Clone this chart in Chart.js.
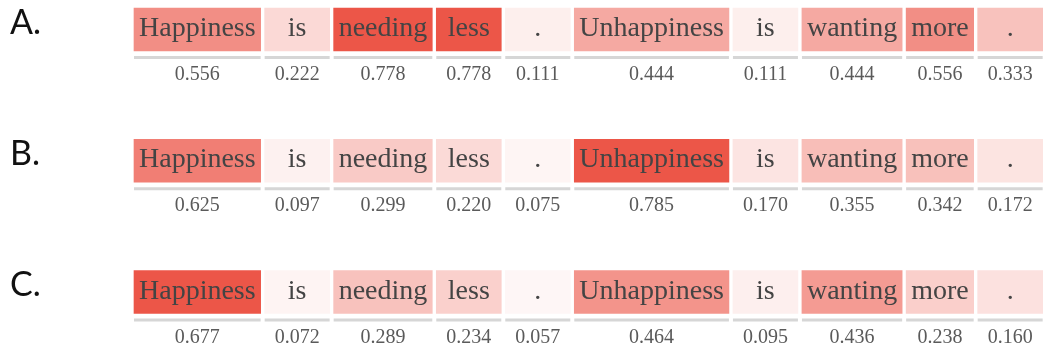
<!DOCTYPE html>
<html>
<head>
<meta charset="utf-8">
<script src="https://cdn.jsdelivr.net/npm/chart.js@4.4.0/dist/chart.umd.min.js"></script>
<style>
  html, body { margin: 0; padding: 0; background: #ffffff; }
  #wrap { width: 1043px; height: 350px; position: relative; }
</style>
</head>
<body>
<div id="wrap"><canvas id="c"></canvas></div>
<script>
// ---- data ----
const rowLabels = ['A.', 'B.', 'C.'];
const words = ['Happiness', 'is', 'needing', 'less', '.', 'Unhappiness', 'is', 'wanting', 'more', '.'];
const valuesA = [0.556, 0.222, 0.778, 0.778, 0.111, 0.444, 0.111, 0.444, 0.556, 0.333];
const valuesB = [0.625, 0.097, 0.299, 0.220, 0.075, 0.785, 0.170, 0.355, 0.342, 0.172];
const valuesC = [0.677, 0.072, 0.289, 0.234, 0.057, 0.464, 0.095, 0.436, 0.238, 0.160];
const rows = [valuesA, valuesB, valuesC];

// ---- style / layout ----
const WORD_FONT = '28px "Liberation Serif", "Times New Roman", serif';
const VALUE_FONT = '20px "Liberation Serif", "Times New Roman", serif';
const LABEL_FONT = '34px Lato, "Open Sans", sans-serif';
const RED = [236, 86, 72];
const ROW_START = 134, GAP = 4, PAD = 10, MIN_W = 65;

const mctx = document.createElement('canvas').getContext('2d');
function textW(t, f) { mctx.font = f; return mctx.measureText(t).width; }

// cell extents in scale units derived from the word widths
const spans = [];
(function () {
  let x = ROW_START;
  words.forEach(w => {
    const cw = Math.max(textW(w, WORD_FONT) + PAD, MIN_W);
    spans.push([x, x + cw]);
    x += cw + GAP;
  });
})();

function colorFor(v, rowMax) {
  const t = Math.pow(v / rowMax, 1.2);
  const c = RED.map(ch => Math.round(255 + (ch - 255) * t));
  return `rgb(${c[0]},${c[1]},${c[2]})`;
}

const datasets = words.map((w, i) => ({
  label: w,
  data: rows.map(() => spans[i]),
  backgroundColor: rows.map(r => colorFor(r[i], Math.max(...r))),
  borderWidth: 0,
  barThickness: 43,
  grouped: false,
  clip: false
}));

const cellText = {
  id: 'cellText',
  afterDatasetsDraw(chart) {
    const ctx = chart.ctx;
    ctx.save();
    chart.data.datasets.forEach((ds, i) => {
      const meta = chart.getDatasetMeta(i);
      meta.data.forEach((bar, r) => {
        const p = bar.getProps(['x', 'y', 'base', 'height'], true);
        const left = Math.min(p.x, p.base), right = Math.max(p.x, p.base);
        const cx = (left + right) / 2;
        const bottom = p.y + p.height / 2;
        // word
        ctx.font = WORD_FONT;
        ctx.fillStyle = '#444444';
        ctx.textAlign = 'center';
        ctx.textBaseline = 'alphabetic';
        ctx.fillText(words[i], cx, p.y + 6.5);
        // underline
        ctx.fillStyle = '#d6d6d6';
        ctx.fillRect(left, bottom + 5, right - left, 3);
        // value
        ctx.font = VALUE_FONT;
        ctx.fillStyle = '#5a5a5a';
        ctx.fillText(rows[r][i].toFixed(3), cx, bottom + 29);
      });
    });
    // row labels
    const ys = chart.scales.y;
    ctx.font = LABEL_FONT;
    ctx.fillStyle = '#111111';
    ctx.textAlign = 'left';
    ctx.textBaseline = 'alphabetic';
    rowLabels.forEach((l, r) => {
      ctx.fillText(l, 10, ys.getPixelForValue(r) + 4);
    });
    ctx.restore();
  }
};

new Chart(document.getElementById('c'), {
  type: 'bar',
  data: { labels: rowLabels, datasets },
  options: {
    indexAxis: 'y',
    responsive: true,
    maintainAspectRatio: false,
    animation: false,
    layout: { padding: { top: 29.5, bottom: 58, left: 0, right: 0 } },
    scales: {
      x: { type: 'linear', min: 0, max: 1043, display: false },
      y: { type: 'category', offset: false, display: false }
    },
    plugins: { legend: { display: false }, tooltip: { enabled: false } }
  },
  plugins: [cellText]
});
</script>
</body>
</html>
